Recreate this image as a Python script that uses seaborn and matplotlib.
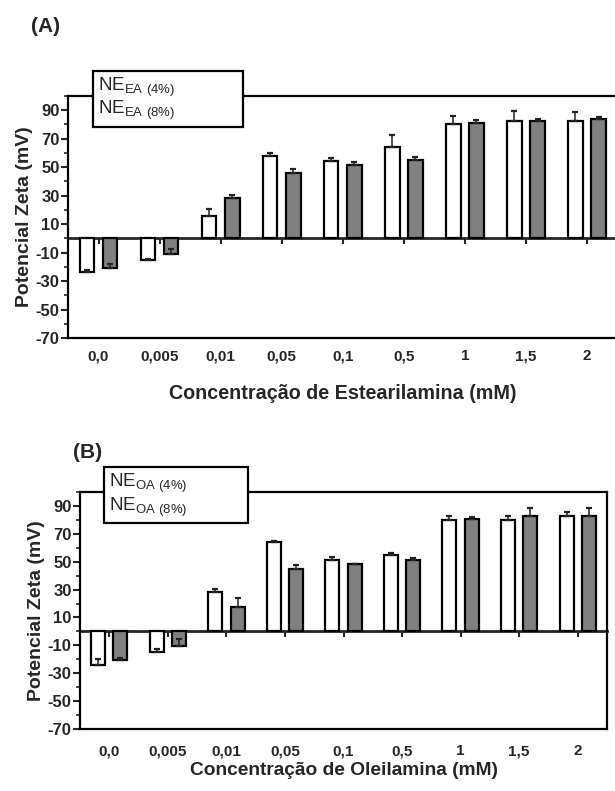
import matplotlib
matplotlib.use('Agg')
import matplotlib.pyplot as plt
from matplotlib.lines import Line2D
from matplotlib.ticker import MultipleLocator
import pandas as pd
import seaborn as sns

# valores (mV)
concentracoes = ['0,0', '0,005', '0,01', '0,05', '0,1', '0,5', '1', '1,5', '2']

ea_4 = [-23.5, -15.2, 15.7, 58.1, 54.6, 64.5, 80.4, 82.3, 82.7]
ea_4_erro = [1.2, 1.0, 4.7, 1.6, 1.6, 8.4, 5.9, 7.5, 5.9]
ea_8 = [-21.0, -11.0, 28.1, 46.2, 51.8, 55.3, 81.3, 82.3, 83.9]
ea_8_erro = [3.0, 3.3, 2.3, 2.3, 2.1, 1.6, 1.6, 1.2, 1.6]

oa_4 = [-23.9, -14.5, 28.0, 64.0, 51.4, 54.5, 79.8, 79.8, 82.7]
oa_4_erro = [3.8, 1.9, 2.6, 1.2, 1.9, 1.7, 3.3, 2.8, 2.6]
oa_8 = [-20.6, -10.7, 17.8, 45.0, 48.1, 51.4, 80.5, 82.9, 82.7]
oa_8_erro = [1.7, 5.2, 6.2, 2.8, 0.5, 1.2, 1.4, 5.9, 5.7]

sns.set_style('ticks')
plt.rcParams['font.family'] = ['Liberation Sans', 'DejaVu Sans']
plt.rcParams['mathtext.fontset'] = 'custom'
plt.rcParams['mathtext.rm'] = 'Liberation Sans'
plt.rcParams['axes.unicode_minus'] = False

YMIN, YMAX = -70, 100


def painel(ax, v4, e4, v8, e8, sigla, xlabel, xfont, xpad, tickpad):
    df = pd.DataFrame({
        'conc': concentracoes * 2,
        'zeta': v4 + v8,
        'grupo': ['4%'] * len(v4) + ['8%'] * len(v8),
    })
    sns.barplot(data=df, x='conc', y='zeta', hue='grupo', order=concentracoes,
                palette=['white', '#808080'], edgecolor='black', linewidth=1.6,
                width=0.76, gap=0.37, errorbar=None, legend=False, ax=ax)

    # barras de erro so para cima (estilo Prism)
    for cont, err in zip(ax.containers, [e4, e8]):
        for bar, e in zip(cont, err):
            xc = bar.get_x() + bar.get_width() / 2
            yt = bar.get_y() + bar.get_height()
            ax.errorbar(xc, yt, yerr=[[0], [e]], fmt='none', ecolor='#222222',
                        elinewidth=1.1, capsize=2.2, capthick=1.6, zorder=4)

    ax.set_ylim(YMIN, YMAX)
    ax.set_xlim(-0.5, len(concentracoes) - 0.5)
    ax.set_yticks(range(-70, 91, 20))
    ax.yaxis.set_minor_locator(MultipleLocator(10))
    ax.tick_params(axis='y', which='major', length=5, width=1.5, labelsize=12, pad=1)
    ax.tick_params(axis='y', which='minor', length=3, width=1.2)
    ax.tick_params(axis='x', length=0, labelsize=11, pad=tickpad)
    for lab in ax.get_xticklabels() + ax.get_yticklabels():
        lab.set_fontweight('bold')
    for s in ax.spines.values():
        s.set_linewidth(1.6)
        s.set_color('black')

    # eixo x cruzando em zero
    zero = ax.secondary_xaxis((0 - YMIN) / (YMAX - YMIN))
    zero.set_xticks(range(len(concentracoes)), labels=[''] * len(concentracoes))
    zero.tick_params(length=4, width=1.5, direction='out')
    zero.spines['bottom'].set_linewidth(2)

    ax.set_ylabel('Potencial Zeta (mV)', fontsize=14, fontweight='bold', labelpad=2)
    ax.set_xlabel(xlabel, fontsize=xfont, fontweight='bold', labelpad=xpad)

    rotulos = [r'NE$_{\mathregular{%s\ (4\%%)}}$' % sigla,
               r'NE$_{\mathregular{%s\ (8\%%)}}$' % sigla]
    handles = [Line2D([], [], linestyle='none') for _ in rotulos]
    leg = ax.legend(handles, rotulos, loc='upper left', mode='expand',
                    bbox_to_anchor=(0.046, 1.105, 0.272, 0.0),
                    borderaxespad=0, handlelength=0, handletextpad=0, fontsize=13.5,
                    fancybox=False, framealpha=1, edgecolor='black',
                    labelspacing=0.0, borderpad=0.25)
    leg.get_frame().set_linewidth(1.6)
    leg.set_zorder(10)


fig = plt.figure(figsize=(6.15, 7.91), dpi=100)
ax_a = fig.add_axes([68 / 615, 1 - 338 / 791, 549.5 / 615, 242 / 791])
ax_b = fig.add_axes([80 / 615, 1 - 729 / 791, 527 / 615, 237 / 791])

painel(ax_a, ea_4, ea_4_erro, ea_8, ea_8_erro, 'EA',
       'Concentração de Estearilamina (mM)', 14.2, 15, 8)
painel(ax_b, oa_4, oa_4_erro, oa_8, oa_8_erro, 'OA',
       'Concentração de Oleilamina (mM)', 13.8, 3, 11)

fig.text(31 / 615, 1 - 27 / 791, '(A)', fontsize=15, fontweight='bold', va='center')
fig.text(73 / 615, 1 - 453 / 791, '(B)', fontsize=15, fontweight='bold', va='center')

fig.savefig('out.png', dpi=100)
